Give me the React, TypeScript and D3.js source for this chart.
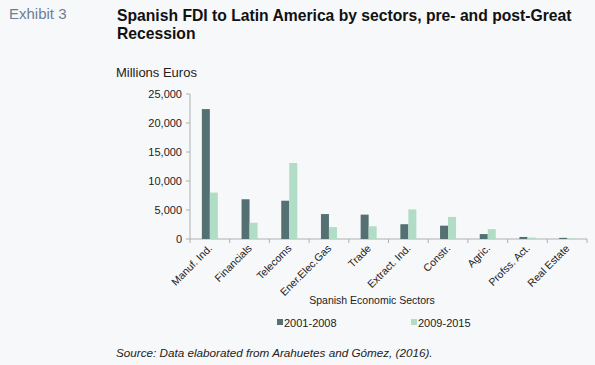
import React from "react";
import * as d3 from "d3";

const categories = ["Manuf. Ind.", "Financials", "Telecoms", "Ener.Elec.Gas", "Trade", "Extract. Ind.", "Constr.", "Agric.", "Profss. Act.", "Real Estate"];
const series2001 = [22400, 6850, 6600, 4300, 4200, 2550, 2300, 850, 350, 200];
const series2009 = [8000, 2800, 13100, 2050, 2200, 5100, 3800, 1700, 250, 100];
const yTicks = [0, 5000, 10000, 15000, 20000, 25000];
const seriesNames = ["2001-2008", "2009-2015"];
const colors = ["#557073", "#b1dcc6"];

export default function App() {
  const W = 595, H = 365;
  const x = d3.scaleBand<string>().domain(categories).range([190, 587]).paddingInner(0).paddingOuter(0);
  const y = d3.scaleLinear().domain([0, 25000]).range([239, 94]);
  const bw = 8;
  const font = "Liberation Sans, Arial, sans-serif";
  const fmt = d3.format(",");
  return (
    <svg width={W} height={H} style={{ position: "absolute", left: 0, top: 0, fontFamily: font }}>
      <rect x={0} y={0} width={W} height={H} fill="#f7f8fa" />
      <text x={9} y={19} fontSize={15} fill="#6c7f96">Exhibit 3</text>
      <text x={117} y={21} fontSize={15.7} fontWeight="bold" fill="#111">Spanish FDI to Latin America by sectors, pre- and post-Great</text>
      <text x={117} y={39} fontSize={15.7} fontWeight="bold" fill="#111">Recession</text>
      <text x={116} y={77} fontSize={13} fill="#222">Millions Euros</text>
      {/* y axis */}
      <line x1={190} x2={190} y1={y(25000)} y2={y(0)} stroke="#b0b0b0" />
      {yTicks.map((t) => (
        <g key={t}>
          <line x1={186} x2={190} y1={y(t)} y2={y(t)} stroke="#b0b0b0" />
          <text x={182} y={y(t) + 4} fontSize={11} textAnchor="end" fill="#222">{fmt(t)}</text>
        </g>
      ))}
      {/* x axis */}
      <line x1={190} x2={587} y1={y(0)} y2={y(0)} stroke="#b0b0b0" />
      {categories.map((c, i) => (
        <line key={"t" + i} x1={x(c)!} x2={x(c)!} y1={y(0)} y2={y(0) + 4} stroke="#b0b0b0" />
      ))}
      <line x1={587} x2={587} y1={y(0)} y2={y(0) + 4} stroke="#b0b0b0" />
      {categories.map((c, i) => {
        const cx = x(c)! + x.bandwidth() / 2;
        return (
          <g key={c}>
            <rect x={cx - bw} y={y(series2001[i])} width={bw} height={y(0) - y(series2001[i])} fill={colors[0]} />
            <rect x={cx} y={y(series2009[i])} width={bw} height={y(0) - y(series2009[i])} fill={colors[1]} />
            <text transform={`translate(${cx + 3},${y(0) + 10}) rotate(-45)`} fontSize={10.5} textAnchor="end" fill="#222">{c}</text>
          </g>
        );
      })}
      <text x={372} y={304} fontSize={10.5} textAnchor="middle" fill="#222">Spanish Economic Sectors</text>
      {seriesNames.map((s, i) => {
        const lx = i === 0 ? 277 : 411;
        return (
          <g key={s}>
            <rect x={lx} y={319} width={6} height={6} fill={colors[i]} />
            <text x={lx + 7} y={327} fontSize={11} fill="#222">{s}</text>
          </g>
        );
      })}
      <text x={116} y={357} fontSize={11.7} fontStyle="italic" fill="#222">Source: Data elaborated from Arahuetes and Gómez, (2016).</text>
    </svg>
  );
}
